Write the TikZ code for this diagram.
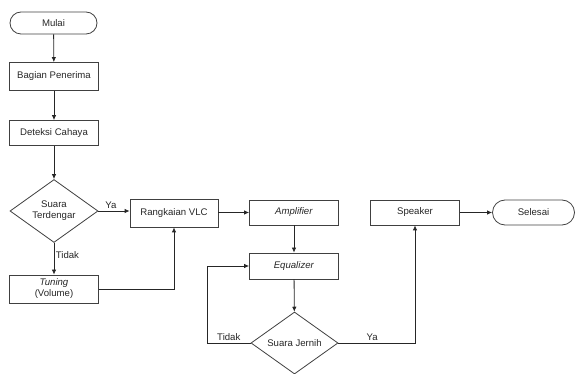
\documentclass[tikz,border=0pt]{standalone}
\usepackage{fontspec}
\setmainfont{Liberation Sans}
\usetikzlibrary{arrows.meta,shapes.geometric,shapes.misc}
\begin{document}
\begin{tikzpicture}[x=1pt,y=-1pt,
  every node/.style={font=\fontsize{9.6}{11}\selectfont, text=black!85},
  procbox/.style={draw=black!75, line width=0.8pt, rectangle, minimum width=89pt, minimum height=26pt, inner sep=1pt, align=center},
  termbox/.style={draw=black!75, line width=0.8pt, rounded rectangle, minimum width=89pt, minimum height=22pt, inner sep=1pt},
  decbox/.style={draw=black!75, line width=0.8pt, diamond, minimum width=88pt, minimum height=62pt, inner sep=0pt, align=center},
  flow/.style={draw=black!85, line width=0.8pt, -{Latex[length=5pt,width=4.5pt]}},
  lbl/.style={font=\fontsize{9.6}{11}\selectfont, inner sep=1pt}
]
\path[use as bounding box] (0,0) rectangle (576,374);
\node[termbox] (mulai) at (53.5,23) {Mulai};
\node[procbox, minimum height=28pt] (bagian) at (54,76.5) {Bagian Penerima};
\node[procbox, minimum height=25pt] (deteksi) at (54,133) {Deteksi Cahaya};
\node[decbox] (st) at (54,211) {Suara\\Terdengar};
\node[procbox, minimum height=28pt] (tuning) at (54,289) {\textit{Tuning}\\(Volume)};
\node[procbox, minimum width=88pt, minimum height=28pt] (rvlc) at (174,213) {Rangkaian VLC};
\node[procbox, minimum height=25pt] (amp) at (294,212.5) {\textit{Amplifier}};
\node[procbox] (eq) at (294,266) {\textit{Equalizer}};
\node[decbox, minimum width=87pt] (sj) at (294.5,343) {Suara Jernih};
\node[procbox, minimum height=25pt] (spk) at (415,212.5) {Speaker};
\node[termbox, minimum width=84pt, minimum height=25pt] (sel) at (533.5,212.5) {Selesai};
\coordinate (loopc) at (207,343);

\draw[flow] (mulai) -- (bagian);
\draw[flow] (bagian) -- (deteksi);
\draw[flow] (deteksi) -- (st);
\draw[flow] (st.east) -- node[lbl, pos=0.4, above=1pt] {Ya} (rvlc.west |- st.east);
\draw[flow] (st.south) -- node[lbl, pos=0.4, right=0.5pt] {Tidak} (tuning.north);
\draw[flow] (tuning.east) -| (rvlc.south);
\draw[flow] (rvlc.east |- amp.west) -- (amp.west);
\draw[flow] (amp) -- (eq);
\draw[flow] (eq) -- (sj);
\draw[flow] (sj.west) -- node[lbl, pos=0.5, above=1pt] {Tidak} (loopc) |- (eq.west);
\draw[flow] (sj.east) -| node[lbl, pos=0.22, above=1pt] {Ya} (spk.south);
\draw[flow] (spk) -- (sel);
\end{tikzpicture}
\end{document}
